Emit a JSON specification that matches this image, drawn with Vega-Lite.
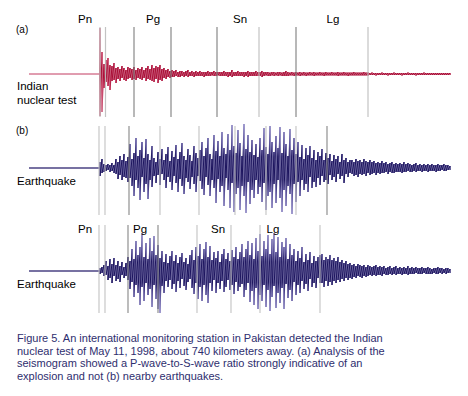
{
"$schema":"https://vega.github.io/schema/vega-lite/v6.json",
"padding":0,"spacing":0,"bounds":"flush",
"config":{"view":{"stroke":null},"font":"Liberation Sans"},
"datasets":{
"ev":[
{"p":"a","t":50,"k":"minor"},{"p":"a","t":52.75,"k":"minor"},{"p":"a","t":67,"k":"major"},{"p":"a","t":85.5,"k":"major"},{"p":"a","t":108.5,"k":"major"},{"p":"a","t":129.5,"k":"minor"},{"p":"a","t":148,"k":"major"},{"p":"a","t":184,"k":"minor"},
{"p":"b","t":49.5,"k":"minor"},{"p":"b","t":52.5,"k":"minor"},{"p":"b","t":64.5,"k":"major"},{"p":"b","t":80,"k":"minor"},{"p":"b","t":99.5,"k":"minor"},{"p":"b","t":117.5,"k":"minor"},{"p":"b","t":133,"k":"minor"},{"p":"b","t":148,"k":"minor"},{"p":"b","t":163.5,"k":"major"},
{"p":"c","t":49.5,"k":"minor"},{"p":"c","t":52.5,"k":"minor"},{"p":"c","t":64,"k":"major"},{"p":"c","t":79,"k":"major"},{"p":"c","t":98.5,"k":"minor"},{"p":"c","t":115.5,"k":"minor"},{"p":"c","t":130,"k":"minor"},{"p":"c","t":160,"k":"minor"}
],
"lab":[
{"p":"a","t":42.5,"y":51,"s":"Pn"},{"p":"a","t":76.5,"y":51,"s":"Pg"},{"p":"a","t":120,"y":51,"s":"Sn"},{"p":"a","t":166.5,"y":51,"s":"Lg"},
{"p":"c","t":42.5,"y":38,"s":"Pn"},{"p":"c","t":70,"y":38,"s":"Pg"},{"p":"c","t":109,"y":38,"s":"Sn"},{"p":"c","t":136.5,"y":38,"s":"Lg"}
],
"side":[
{"p":"a","t":8,"y":41,"s":"(a)","f":10},{"p":"a","t":8.5,"y":-16,"s":"Indian","f":11.5},{"p":"a","t":8.5,"y":-30,"s":"nuclear test","f":11.5},
{"p":"b","t":8,"y":34,"s":"(b)","f":10},{"p":"b","t":8.5,"y":-17,"s":"Earthquake","f":11.5},
{"p":"c","t":8.5,"y":-17,"s":"Earthquake","f":11.5}
],
"cap":[
{"n":1,"s":"Figure 5. An international monitoring station in Pakistan detected the Indian"},
{"n":2,"s":"nuclear test of May 11, 1998, about 740 kilometers away. (a) Analysis of the"},
{"n":3,"s":"seismogram showed a P-wave-to-S-wave ratio strongly indicative of an"},
{"n":4,"s":"explosion and not (b) nearby earthquakes."}
],
"a":[
{"t":50,"h":46,"l":-42},{"t":51,"h":22,"l":-38},{"t":52,"h":10,"l":-14},{"t":53,"h":14,"l":-8},{"t":54,"h":16,"l":-12},{"t":55,"h":9,"l":-16},{"t":56,"h":8,"l":-7},{"t":57,"h":11,"l":-6},{"t":58,"h":6,"l":-9},{"t":59,"h":7,"l":-5},
{"t":60,"h":5,"l":-7},{"t":61,"h":8,"l":-4},{"t":62,"h":6,"l":-6},{"t":63,"h":4,"l":-7},{"t":64,"h":7,"l":-5},{"t":65,"h":6,"l":-4},{"t":66,"h":5,"l":-6},{"t":67,"h":7,"l":-5},{"t":68,"h":4,"l":-6},{"t":69,"h":6,"l":-4},
{"t":70,"h":5,"l":-5},{"t":71,"h":7,"l":-6},{"t":72,"h":4,"l":-4},{"t":73,"h":6,"l":-7},{"t":74,"h":8,"l":-5},{"t":75,"h":5,"l":-6},{"t":76,"h":9,"l":-7},{"t":77,"h":6,"l":-8},{"t":78,"h":8,"l":-5},{"t":79,"h":7,"l":-9},
{"t":80,"h":9,"l":-6},{"t":81,"h":5,"l":-7},{"t":82,"h":6,"l":-4},{"t":83,"h":4,"l":-5},{"t":84,"h":5,"l":-3},{"t":85,"h":3,"l":-4},{"t":86,"h":4,"l":-3},{"t":87,"h":3,"l":-3},{"t":88,"h":4,"l":-2},{"t":89,"h":2,"l":-3},
{"t":90,"h":3,"l":-3},{"t":91,"h":3,"l":-2},{"t":92,"h":2,"l":-3},{"t":93,"h":3,"l":-2},{"t":94,"h":4,"l":-3},{"t":95,"h":2,"l":-2},{"t":96,"h":3,"l":-2},{"t":97,"h":2,"l":-3},{"t":98,"h":3,"l":-2},{"t":99,"h":2,"l":-2},
{"t":100,"h":3,"l":-2},{"t":101,"h":2,"l":-2},{"t":102,"h":2,"l":-3},{"t":103,"h":2,"l":-2},{"t":104,"h":3,"l":-2},{"t":105,"h":2,"l":-2},{"t":106,"h":2,"l":-1.5},{"t":107,"h":3,"l":-2},{"t":108,"h":2,"l":-2},{"t":109,"h":2,"l":-1.5},
{"t":110,"h":2,"l":-2},{"t":111,"h":2,"l":-2},{"t":112,"h":3,"l":-2},{"t":113,"h":2,"l":-2},{"t":114,"h":2,"l":-3},{"t":115,"h":2,"l":-2},{"t":116,"h":4,"l":-3},{"t":117,"h":2,"l":-2},{"t":118,"h":2,"l":-2},{"t":119,"h":3,"l":-2},
{"t":120,"h":2,"l":-2},{"t":121,"h":2,"l":-2},{"t":122,"h":2,"l":-3},{"t":123,"h":2,"l":-2},{"t":124,"h":3,"l":-3},{"t":125,"h":2,"l":-2},{"t":126,"h":2,"l":-2},{"t":127,"h":2,"l":-2},{"t":128,"h":3,"l":-2},{"t":129,"h":2,"l":-2},
{"t":130,"h":2,"l":-2},{"t":131,"h":3,"l":-3},{"t":132,"h":2,"l":-2},{"t":133,"h":2,"l":-1.5},{"t":134,"h":2,"l":-2},{"t":135,"h":1.5,"l":-2},{"t":136,"h":2,"l":-1.5},{"t":137,"h":2,"l":-2},{"t":138,"h":1.5,"l":-1.5},{"t":139,"h":2,"l":-2},
{"t":140,"h":2,"l":-1.5},{"t":141,"h":1.5,"l":-2},{"t":142,"h":2,"l":-2},{"t":143,"h":3,"l":-2},{"t":144,"h":2,"l":-2},{"t":145,"h":1.5,"l":-1.5},{"t":146,"h":2,"l":-1.5},{"t":147,"h":1.5,"l":-2},{"t":148,"h":2,"l":-1.5},{"t":149,"h":1.5,"l":-1.5},
{"t":150,"h":2,"l":-2},{"t":151,"h":1.5,"l":-1.5},{"t":152,"h":2,"l":-1.5},{"t":153,"h":1.5,"l":-2},{"t":154,"h":1.5,"l":-1.5},{"t":155,"h":2,"l":-1.5},{"t":156,"h":1.5,"l":-1.5},{"t":157,"h":2,"l":-2},{"t":158,"h":1.5,"l":-1.5},{"t":159,"h":1.5,"l":-1.5},
{"t":160,"h":2,"l":-1.5},{"t":161,"h":1.5,"l":-1.5},{"t":162,"h":1.5,"l":-2},{"t":163,"h":2,"l":-1.5},{"t":164,"h":1.5,"l":-1.5},{"t":165,"h":1.5,"l":-1.5},{"t":166,"h":2,"l":-1.5},{"t":167,"h":1.5,"l":-1.5},{"t":168,"h":1.5,"l":-1.5},{"t":169,"h":2,"l":-2},
{"t":170,"h":1.5,"l":-1.5},{"t":171,"h":1.5,"l":-1.5},{"t":172,"h":2,"l":-1.5},{"t":173,"h":1.5,"l":-1.5},{"t":174,"h":1.5,"l":-2},{"t":175,"h":1.5,"l":-1.5},{"t":176,"h":1.5,"l":-1.5},{"t":177,"h":2,"l":-1.5},{"t":178,"h":1.5,"l":-1.5},{"t":179,"h":1.5,"l":-1.5},
{"t":180,"h":1.5,"l":-1.5},{"t":181,"h":1.5,"l":-1.5},{"t":182,"h":2,"l":-1.5},{"t":183,"h":1.5,"l":-1.5},{"t":184,"h":1.5,"l":-1.5},{"t":185,"h":1,"l":-1},{"t":186,"h":1.5,"l":-1},{"t":187,"h":1,"l":-1},{"t":188,"h":1,"l":-1.5},{"t":189,"h":1,"l":-1},
{"t":190,"h":1,"l":-1},{"t":191,"h":1.5,"l":-1},{"t":192,"h":1,"l":-1},{"t":193,"h":1,"l":-1},{"t":194,"h":1,"l":-1.5},{"t":195,"h":1,"l":-1},{"t":196,"h":1,"l":-1},{"t":197,"h":1.5,"l":-1},{"t":198,"h":1,"l":-1},{"t":199,"h":1,"l":-1},
{"t":200,"h":1,"l":-1},{"t":201,"h":1,"l":-1.5},{"t":202,"h":1,"l":-1},{"t":203,"h":1,"l":-1},{"t":204,"h":1.5,"l":-1},{"t":205,"h":1,"l":-1},{"t":206,"h":1,"l":-1},{"t":207,"h":1,"l":-1},{"t":208,"h":1,"l":-1.5},{"t":209,"h":1,"l":-1},
{"t":210,"h":1,"l":-1},{"t":211,"h":1,"l":-1},{"t":212,"h":1.5,"l":-1},{"t":213,"h":1,"l":-1},{"t":214,"h":1,"l":-1},{"t":215,"h":1,"l":-1},{"t":216,"h":1,"l":-1},{"t":217,"h":1,"l":-1},{"t":218,"h":1,"l":-1},{"t":219,"h":1,"l":-1},
{"t":220,"h":1,"l":-1},{"t":221,"h":1,"l":-1},{"t":222,"h":1,"l":-1},{"t":223,"h":1,"l":-1},{"t":224,"h":1,"l":-1},{"t":225,"h":1,"l":-1}
],
"b":[
{"t":50,"h":6,"l":-8},{"t":51,"h":9,"l":-5},{"t":52,"h":4,"l":-4},{"t":53,"h":3,"l":-3},{"t":54,"h":4,"l":-2},{"t":55,"h":3,"l":-4},{"t":56,"h":5,"l":-3},{"t":57,"h":3,"l":-5},{"t":58,"h":9,"l":-6},{"t":59,"h":6,"l":-11},
{"t":60,"h":12,"l":-7},{"t":61,"h":8,"l":-12},{"t":62,"h":14,"l":-9},{"t":63,"h":7,"l":-10},{"t":64,"h":11,"l":-14},{"t":65,"h":24,"l":-10},{"t":66,"h":9,"l":-18},{"t":67,"h":15,"l":-28},{"t":68,"h":30,"l":-12},{"t":69,"h":12,"l":-20},
{"t":70,"h":18,"l":-32},{"t":71,"h":26,"l":-9},{"t":72,"h":10,"l":-24},{"t":73,"h":29,"l":-16},{"t":74,"h":14,"l":-31},{"t":75,"h":8,"l":-12},{"t":76,"h":22,"l":-19},{"t":77,"h":10,"l":-8},{"t":78,"h":6,"l":-15},{"t":79,"h":16,"l":-7},
{"t":80,"h":9,"l":-17},{"t":81,"h":19,"l":-6},{"t":82,"h":8,"l":-12},{"t":83,"h":14,"l":-20},{"t":84,"h":21,"l":-9},{"t":85,"h":7,"l":-14},{"t":86,"h":17,"l":-22},{"t":87,"h":11,"l":-8},{"t":88,"h":23,"l":-15},{"t":89,"h":9,"l":-24},
{"t":90,"h":16,"l":-11},{"t":91,"h":25,"l":-18},{"t":92,"h":12,"l":-26},{"t":93,"h":8,"l":-10},{"t":94,"h":19,"l":-14},{"t":95,"h":13,"l":-21},{"t":96,"h":7,"l":-9},{"t":97,"h":22,"l":-16},{"t":98,"h":15,"l":-24},{"t":99,"h":10,"l":-8},
{"t":100,"h":18,"l":-13},{"t":101,"h":26,"l":-21},{"t":102,"h":12,"l":-27},{"t":103,"h":20,"l":-9},{"t":104,"h":30,"l":-17},{"t":105,"h":14,"l":-28},{"t":106,"h":9,"l":-12},{"t":107,"h":33,"l":-20},{"t":108,"h":17,"l":-35},{"t":109,"h":27,"l":-11},
{"t":110,"h":12,"l":-24},{"t":111,"h":36,"l":-18},{"t":112,"h":20,"l":-38},{"t":113,"h":14,"l":-10},{"t":114,"h":34,"l":-22},{"t":115,"h":18,"l":-40},{"t":116,"h":43,"l":-15},{"t":117,"h":22,"l":-44},{"t":118,"h":15,"l":-26},{"t":119,"h":38,"l":-20},
{"t":120,"h":25,"l":-42},{"t":121,"h":12,"l":-18},{"t":122,"h":44,"l":-28},{"t":123,"h":19,"l":-45},{"t":124,"h":33,"l":-14},{"t":125,"h":16,"l":-36},{"t":126,"h":28,"l":-22},{"t":127,"h":13,"l":-30},{"t":128,"h":24,"l":-12},{"t":129,"h":11,"l":-26},
{"t":130,"h":30,"l":-19},{"t":131,"h":18,"l":-34},{"t":132,"h":40,"l":-15},{"t":133,"h":21,"l":-42},{"t":134,"h":14,"l":-28},{"t":135,"h":42,"l":-24},{"t":136,"h":26,"l":-40},{"t":137,"h":16,"l":-16},{"t":138,"h":32,"l":-35},{"t":139,"h":20,"l":-12},
{"t":140,"h":41,"l":-30},{"t":141,"h":15,"l":-44},{"t":142,"h":36,"l":-22},{"t":143,"h":24,"l":-38},{"t":144,"h":12,"l":-18},{"t":145,"h":39,"l":-26},{"t":146,"h":18,"l":-46},{"t":147,"h":30,"l":-16},{"t":148,"h":14,"l":-34},{"t":149,"h":26,"l":-14},
{"t":150,"h":11,"l":-28},{"t":151,"h":23,"l":-12},{"t":152,"h":9,"l":-22},{"t":153,"h":20,"l":-16},{"t":154,"h":13,"l":-24},{"t":155,"h":22,"l":-9},{"t":156,"h":10,"l":-20},{"t":157,"h":18,"l":-14},{"t":158,"h":8,"l":-19},{"t":159,"h":16,"l":-10},
{"t":160,"h":12,"l":-17},{"t":161,"h":19,"l":-8},{"t":162,"h":8,"l":-14},{"t":163,"h":15,"l":-12},{"t":164,"h":10,"l":-16},{"t":165,"h":14,"l":-7},{"t":166,"h":7,"l":-12},{"t":167,"h":13,"l":-9},{"t":168,"h":9,"l":-14},{"t":169,"h":12,"l":-6},
{"t":170,"h":6,"l":-11},{"t":171,"h":14,"l":-8},{"t":172,"h":8,"l":-15},{"t":173,"h":10,"l":-6},{"t":174,"h":6,"l":-9},{"t":175,"h":8,"l":-5},{"t":176,"h":8,"l":-6},{"t":177,"h":6,"l":-8},{"t":178,"h":9,"l":-7},{"t":179,"h":7,"l":-9},
{"t":180,"h":8,"l":-6},{"t":181,"h":6,"l":-7},{"t":182,"h":9,"l":-6},{"t":183,"h":7,"l":-8},{"t":184,"h":6,"l":-5},{"t":185,"h":8,"l":-7},{"t":186,"h":6,"l":-6},{"t":187,"h":7,"l":-5},{"t":188,"h":5,"l":-7},{"t":189,"h":6,"l":-5},
{"t":190,"h":5,"l":-6},{"t":191,"h":7,"l":-5},{"t":192,"h":5,"l":-5},{"t":193,"h":6,"l":-4},{"t":194,"h":4,"l":-6},{"t":195,"h":5,"l":-4},{"t":196,"h":6,"l":-5},{"t":197,"h":4,"l":-5},{"t":198,"h":5,"l":-4},{"t":199,"h":4,"l":-4},
{"t":200,"h":5,"l":-4},{"t":201,"h":4,"l":-5},{"t":202,"h":6,"l":-4},{"t":203,"h":4,"l":-4},{"t":204,"h":5,"l":-3},{"t":205,"h":4,"l":-4},{"t":206,"h":3,"l":-4},{"t":207,"h":4,"l":-3},{"t":208,"h":5,"l":-4},{"t":209,"h":3,"l":-3},
{"t":210,"h":4,"l":-3},{"t":211,"h":3,"l":-4},{"t":212,"h":4,"l":-3},{"t":213,"h":3,"l":-3},{"t":214,"h":4,"l":-4},{"t":215,"h":3,"l":-3},{"t":216,"h":4,"l":-3},{"t":217,"h":3,"l":-3},{"t":218,"h":3,"l":-4},{"t":219,"h":4,"l":-3},
{"t":220,"h":3,"l":-3},{"t":221,"h":3,"l":-2},{"t":222,"h":4,"l":-3},{"t":223,"h":3,"l":-3},{"t":224,"h":3,"l":-2},{"t":225,"h":2,"l":-2}
],
"c":[
{"t":50,"h":3,"l":-3},{"t":51,"h":4,"l":-2},{"t":52,"h":6,"l":-5},{"t":53,"h":10,"l":-4},{"t":54,"h":5,"l":-9},{"t":55,"h":12,"l":-7},{"t":56,"h":7,"l":-12},{"t":57,"h":13,"l":-5},{"t":58,"h":6,"l":-10},{"t":59,"h":10,"l":-8},
{"t":60,"h":5,"l":-11},{"t":61,"h":9,"l":-4},{"t":62,"h":4,"l":-7},{"t":63,"h":8,"l":-5},{"t":64,"h":14,"l":-9},{"t":65,"h":10,"l":-18},{"t":66,"h":22,"l":-11},{"t":67,"h":12,"l":-26},{"t":68,"h":30,"l":-14},{"t":69,"h":16,"l":-22},
{"t":70,"h":24,"l":-34},{"t":71,"h":38,"l":-16},{"t":72,"h":14,"l":-30},{"t":73,"h":28,"l":-12},{"t":74,"h":12,"l":-24},{"t":75,"h":33,"l":-18},{"t":76,"h":20,"l":-36},{"t":77,"h":35,"l":-14},{"t":78,"h":16,"l":-28},{"t":79,"h":26,"l":-38},
{"t":80,"h":13,"l":-42},{"t":81,"h":20,"l":-15},{"t":82,"h":9,"l":-22},{"t":83,"h":17,"l":-10},{"t":84,"h":8,"l":-16},{"t":85,"h":15,"l":-9},{"t":86,"h":20,"l":-18},{"t":87,"h":10,"l":-13},{"t":88,"h":16,"l":-21},{"t":89,"h":8,"l":-10},
{"t":90,"h":14,"l":-17},{"t":91,"h":18,"l":-8},{"t":92,"h":9,"l":-15},{"t":93,"h":13,"l":-19},{"t":94,"h":7,"l":-11},{"t":95,"h":16,"l":-8},{"t":96,"h":21,"l":-17},{"t":97,"h":11,"l":-23},{"t":98,"h":24,"l":-12},{"t":99,"h":15,"l":-28},
{"t":100,"h":27,"l":-16},{"t":101,"h":12,"l":-30},{"t":102,"h":22,"l":-14},{"t":103,"h":29,"l":-24},{"t":104,"h":14,"l":-32},{"t":105,"h":25,"l":-12},{"t":106,"h":11,"l":-20},{"t":107,"h":19,"l":-9},{"t":108,"h":13,"l":-22},{"t":109,"h":20,"l":-12},
{"t":110,"h":9,"l":-18},{"t":111,"h":17,"l":-10},{"t":112,"h":22,"l":-21},{"t":113,"h":12,"l":-16},{"t":114,"h":18,"l":-9},{"t":115,"h":10,"l":-19},{"t":116,"h":21,"l":-14},{"t":117,"h":14,"l":-23},{"t":118,"h":24,"l":-11},{"t":119,"h":12,"l":-20},
{"t":120,"h":19,"l":-16},{"t":121,"h":27,"l":-13},{"t":122,"h":14,"l":-26},{"t":123,"h":22,"l":-19},{"t":124,"h":30,"l":-12},{"t":125,"h":16,"l":-31},{"t":126,"h":28,"l":-20},{"t":127,"h":12,"l":-34},{"t":128,"h":33,"l":-17},{"t":129,"h":20,"l":-38},
{"t":130,"h":37,"l":-24},{"t":131,"h":15,"l":-30},{"t":132,"h":30,"l":-14},{"t":133,"h":22,"l":-36},{"t":134,"h":36,"l":-19},{"t":135,"h":17,"l":-40},{"t":136,"h":32,"l":-26},{"t":137,"h":38,"l":-15},{"t":138,"h":19,"l":-37},{"t":139,"h":34,"l":-22},
{"t":140,"h":14,"l":-32},{"t":141,"h":29,"l":-17},{"t":142,"h":24,"l":-38},{"t":143,"h":33,"l":-13},{"t":144,"h":12,"l":-27},{"t":145,"h":27,"l":-19},{"t":146,"h":16,"l":-30},{"t":147,"h":22,"l":-11},{"t":148,"h":10,"l":-24},{"t":149,"h":20,"l":-14},
{"t":150,"h":13,"l":-22},{"t":151,"h":24,"l":-10},{"t":152,"h":9,"l":-18},{"t":153,"h":17,"l":-13},{"t":154,"h":11,"l":-20},{"t":155,"h":19,"l":-8},{"t":156,"h":8,"l":-16},{"t":157,"h":15,"l":-12},{"t":158,"h":10,"l":-17},{"t":159,"h":14,"l":-7},
{"t":160,"h":16,"l":-12},{"t":161,"h":17,"l":-12},{"t":162,"h":11,"l":-16},{"t":163,"h":14,"l":-10},{"t":164,"h":12,"l":-15},{"t":165,"h":16,"l":-11},{"t":166,"h":11,"l":-14},{"t":167,"h":13,"l":-10},{"t":168,"h":10,"l":-12},{"t":169,"h":14,"l":-9},
{"t":170,"h":9,"l":-11},{"t":171,"h":11,"l":-8},{"t":172,"h":8,"l":-10},{"t":173,"h":10,"l":-7},{"t":174,"h":7,"l":-9},{"t":175,"h":8,"l":-7},{"t":176,"h":6,"l":-8},{"t":177,"h":7,"l":-6},{"t":178,"h":5,"l":-7},{"t":179,"h":7,"l":-5},
{"t":180,"h":6,"l":-6},{"t":181,"h":5,"l":-7},{"t":182,"h":6,"l":-5},{"t":183,"h":4,"l":-6},{"t":184,"h":6,"l":-5},{"t":185,"h":5,"l":-4},{"t":186,"h":4,"l":-5},{"t":187,"h":5,"l":-4},{"t":188,"h":6,"l":-5},{"t":189,"h":4,"l":-4},
{"t":190,"h":5,"l":-4},{"t":191,"h":4,"l":-5},{"t":192,"h":5,"l":-3},{"t":193,"h":3,"l":-4},{"t":194,"h":4,"l":-4},{"t":195,"h":5,"l":-3},{"t":196,"h":3,"l":-4},{"t":197,"h":4,"l":-3},{"t":198,"h":5,"l":-4},{"t":199,"h":3,"l":-3},
{"t":200,"h":4,"l":-3},{"t":201,"h":3,"l":-4},{"t":202,"h":4,"l":-3},{"t":203,"h":3,"l":-3},{"t":204,"h":5,"l":-4},{"t":205,"h":3,"l":-3},{"t":206,"h":4,"l":-3},{"t":207,"h":3,"l":-3},{"t":208,"h":4,"l":-2},{"t":209,"h":3,"l":-3},
{"t":210,"h":3,"l":-3},{"t":211,"h":4,"l":-3},{"t":212,"h":3,"l":-2},{"t":213,"h":3,"l":-3},{"t":214,"h":4,"l":-3},{"t":215,"h":3,"l":-3},{"t":216,"h":2,"l":-3},{"t":217,"h":3,"l":-2},{"t":218,"h":3,"l":-3},{"t":219,"h":4,"l":-3},
{"t":220,"h":3,"l":-2},{"t":221,"h":3,"l":-3},{"t":222,"h":2,"l":-2},{"t":223,"h":3,"l":-3},{"t":224,"h":3,"l":-2},{"t":225,"h":2,"l":-2}
]
},
"vconcat":[
{"width":468,"height":120,
 "layer":[
  {"data":{"values":[{}]},"mark":{"type":"rule","color":"#c23a60","strokeWidth":1},
   "encoding":{"x":{"datum":14.5,"type":"quantitative","scale":{"domain":[0,234],"nice":false,"zero":false},"axis":null},"x2":{"datum":50},
    "y":{"datum":0,"type":"quantitative","scale":{"domain":[-46,74],"nice":false,"zero":false},"axis":null}}},
  {"data":{"name":"a"},"mark":{"type":"rule","color":"#de8ca3","strokeWidth":1.6},
   "encoding":{"x":{"field":"t","type":"quantitative","scale":{"domain":[0,234],"nice":false,"zero":false},"axis":null},
    "y":{"field":"h","type":"quantitative","scale":{"domain":[-46,74],"nice":false,"zero":false},"axis":null},"y2":{"field":"l"}}},
  {"data":{"name":"a"},"transform":[{"fold":["h","l"],"as":["key","v"]}],"mark":{"type":"line","strokeWidth":1,
    "color":{"gradient":"linear","x1":0,"y1":0,"x2":0,"y2":1,"stops":[{"offset":0,"color":"#d47a93"},{"offset":0.38,"color":"#c02a52"},{"offset":0.46,"color":"#a80c35"},{"offset":0.56,"color":"#a80c35"},{"offset":0.66,"color":"#c02a52"},{"offset":1,"color":"#d47a93"}]}},
   "encoding":{"x":{"field":"t","type":"quantitative","scale":{"domain":[0,234],"nice":false,"zero":false},"axis":null},
    "y":{"field":"v","type":"quantitative","scale":{"domain":[-46,74],"nice":false,"zero":false},"axis":null},
    "order":[{"field":"t","type":"quantitative"},{"field":"key","type":"nominal"}]}},
  {"data":{"name":"ev"},"transform":[{"filter":"datum.p==='a'"}],"mark":{"type":"rule","strokeWidth":1.2,"opacity":0.9},
   "encoding":{"x":{"field":"t","type":"quantitative","scale":{"domain":[0,234],"nice":false,"zero":false},"axis":null},
    "y":{"datum":47,"type":"quantitative","scale":{"domain":[-46,74],"nice":false,"zero":false},"axis":null},"y2":{"datum":-43},
    "color":{"field":"k","type":"nominal","scale":{"domain":["major","minor"],"range":["#7c7c7c","#bdbdbd"]},"legend":null}}},
  {"data":{"name":"lab"},"transform":[{"filter":"datum.p==='a'"}],"mark":{"type":"text","fontSize":11.5,"align":"center","baseline":"alphabetic","color":"#000000"},
   "encoding":{"x":{"field":"t","type":"quantitative","scale":{"domain":[0,234],"nice":false,"zero":false},"axis":null},
    "y":{"field":"y","type":"quantitative","scale":{"domain":[-46,74],"nice":false,"zero":false},"axis":null},"text":{"field":"s"}}},
  {"data":{"name":"side"},"transform":[{"filter":"datum.p==='a'"}],"mark":{"type":"text","align":"left","baseline":"alphabetic","color":"#000000"},
   "encoding":{"x":{"field":"t","type":"quantitative","scale":{"domain":[0,234],"nice":false,"zero":false},"axis":null},
    "y":{"field":"y","type":"quantitative","scale":{"domain":[-46,74],"nice":false,"zero":false},"axis":null},"text":{"field":"s"},
    "size":{"field":"f","type":"quantitative","scale":null}}}
 ]},
{"width":468,"height":98,
 "layer":[
  {"data":{"values":[{}]},"mark":{"type":"rule","color":"#4a4283","strokeWidth":1.5},
   "encoding":{"x":{"datum":14.5,"type":"quantitative","scale":{"domain":[0,234],"nice":false,"zero":false},"axis":null},"x2":{"datum":50},
    "y":{"datum":0,"type":"quantitative","scale":{"domain":[-50,48],"nice":false,"zero":false},"axis":null}}},
  {"data":{"name":"b"},"mark":{"type":"rule","color":"#a29dcf","strokeWidth":1.6},
   "encoding":{"x":{"field":"t","type":"quantitative","scale":{"domain":[0,234],"nice":false,"zero":false},"axis":null},
    "y":{"field":"h","type":"quantitative","scale":{"domain":[-50,48],"nice":false,"zero":false},"axis":null},"y2":{"field":"l"}}},
  {"data":{"name":"b"},"transform":[{"fold":["h","l"],"as":["key","v"]}],"mark":{"type":"line","strokeWidth":1,
    "color":{"gradient":"linear","x1":0,"y1":0,"x2":0,"y2":1,"stops":[{"offset":0,"color":"#9a94cc"},{"offset":0.22,"color":"#5a5299"},{"offset":0.36,"color":"#1c145e"},{"offset":0.62,"color":"#1c145e"},{"offset":0.76,"color":"#5a5299"},{"offset":1,"color":"#9a94cc"}]}},
   "encoding":{"x":{"field":"t","type":"quantitative","scale":{"domain":[0,234],"nice":false,"zero":false},"axis":null},
    "y":{"field":"v","type":"quantitative","scale":{"domain":[-50,48],"nice":false,"zero":false},"axis":null},
    "order":[{"field":"t","type":"quantitative"},{"field":"key","type":"nominal"}]}},
  {"data":{"name":"ev"},"transform":[{"filter":"datum.p==='b'"}],"mark":{"type":"rule","strokeWidth":1.2,"opacity":0.85},
   "encoding":{"x":{"field":"t","type":"quantitative","scale":{"domain":[0,234],"nice":false,"zero":false},"axis":null},
    "y":{"datum":42,"type":"quantitative","scale":{"domain":[-50,48],"nice":false,"zero":false},"axis":null},"y2":{"datum":-47},
    "color":{"field":"k","type":"nominal","scale":{"domain":["major","minor"],"range":["#7c7c7c","#bdbdbd"]},"legend":null}}},
  {"data":{"name":"side"},"transform":[{"filter":"datum.p==='b'"}],"mark":{"type":"text","align":"left","baseline":"alphabetic","color":"#000000"},
   "encoding":{"x":{"field":"t","type":"quantitative","scale":{"domain":[0,234],"nice":false,"zero":false},"axis":null},
    "y":{"field":"y","type":"quantitative","scale":{"domain":[-50,48],"nice":false,"zero":false},"axis":null},"text":{"field":"s"},
    "size":{"field":"f","type":"quantitative","scale":null}}}
 ]},
{"width":468,"height":100,
 "layer":[
  {"data":{"values":[{}]},"mark":{"type":"rule","color":"#4a4283","strokeWidth":1.5},
   "encoding":{"x":{"datum":14.5,"type":"quantitative","scale":{"domain":[0,234],"nice":false,"zero":false},"axis":null},"x2":{"datum":50},
    "y":{"datum":0,"type":"quantitative","scale":{"domain":[-47,53],"nice":false,"zero":false},"axis":null}}},
  {"data":{"name":"c"},"mark":{"type":"rule","color":"#a29dcf","strokeWidth":1.6},
   "encoding":{"x":{"field":"t","type":"quantitative","scale":{"domain":[0,234],"nice":false,"zero":false},"axis":null},
    "y":{"field":"h","type":"quantitative","scale":{"domain":[-47,53],"nice":false,"zero":false},"axis":null},"y2":{"field":"l"}}},
  {"data":{"name":"c"},"transform":[{"fold":["h","l"],"as":["key","v"]}],"mark":{"type":"line","strokeWidth":1,
    "color":{"gradient":"linear","x1":0,"y1":0,"x2":0,"y2":1,"stops":[{"offset":0,"color":"#9a94cc"},{"offset":0.22,"color":"#5a5299"},{"offset":0.36,"color":"#1c145e"},{"offset":0.62,"color":"#1c145e"},{"offset":0.76,"color":"#5a5299"},{"offset":1,"color":"#9a94cc"}]}},
   "encoding":{"x":{"field":"t","type":"quantitative","scale":{"domain":[0,234],"nice":false,"zero":false},"axis":null},
    "y":{"field":"v","type":"quantitative","scale":{"domain":[-47,53],"nice":false,"zero":false},"axis":null},
    "order":[{"field":"t","type":"quantitative"},{"field":"key","type":"nominal"}]}},
  {"data":{"name":"ev"},"transform":[{"filter":"datum.p==='c'"}],"mark":{"type":"rule","strokeWidth":1.2,"opacity":0.85},
   "encoding":{"x":{"field":"t","type":"quantitative","scale":{"domain":[0,234],"nice":false,"zero":false},"axis":null},
    "y":{"datum":46,"type":"quantitative","scale":{"domain":[-47,53],"nice":false,"zero":false},"axis":null},"y2":{"datum":-42},
    "color":{"field":"k","type":"nominal","scale":{"domain":["major","minor"],"range":["#7c7c7c","#bdbdbd"]},"legend":null}}},
  {"data":{"name":"lab"},"transform":[{"filter":"datum.p==='c'"}],"mark":{"type":"text","fontSize":11.5,"align":"center","baseline":"alphabetic","color":"#000000"},
   "encoding":{"x":{"field":"t","type":"quantitative","scale":{"domain":[0,234],"nice":false,"zero":false},"axis":null},
    "y":{"field":"y","type":"quantitative","scale":{"domain":[-47,53],"nice":false,"zero":false},"axis":null},"text":{"field":"s"}}},
  {"data":{"name":"side"},"transform":[{"filter":"datum.p==='c'"}],"mark":{"type":"text","align":"left","baseline":"alphabetic","color":"#000000"},
   "encoding":{"x":{"field":"t","type":"quantitative","scale":{"domain":[0,234],"nice":false,"zero":false},"axis":null},
    "y":{"field":"y","type":"quantitative","scale":{"domain":[-47,53],"nice":false,"zero":false},"axis":null},"text":{"field":"s"},
    "size":{"field":"f","type":"quantitative","scale":null}}}
 ]},
{"width":468,"height":78,
 "data":{"name":"cap"},
 "mark":{"type":"text","align":"left","baseline":"alphabetic","fontSize":11,"color":"#2e2e6e"},
 "encoding":{"x":{"datum":8.5,"type":"quantitative","scale":{"domain":[0,234],"nice":false,"zero":false},"axis":null},
  "y":{"field":"n","type":"quantitative","scale":{"domain":[-0.89,5.25],"nice":false,"zero":false,"reverse":true},"axis":null},
  "text":{"field":"s"}}}
]
}
